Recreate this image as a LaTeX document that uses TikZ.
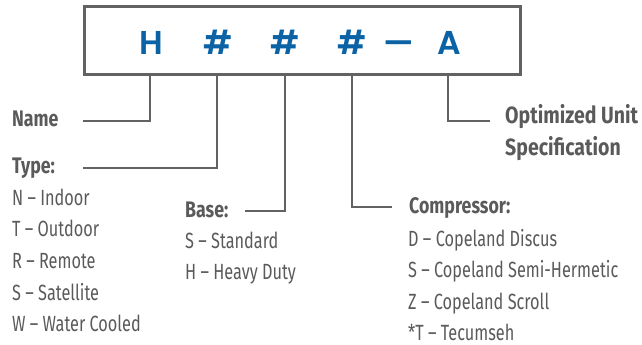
\documentclass[tikz,border=0pt]{standalone}
\usepackage{fontspec}
\setmainfont{Fira Sans}[FakeStretch=0.74]
\newfontfamily\headfont{Fira Sans}[FakeStretch=0.79]
\newfontfamily\wideheadfont{Fira Sans}[FakeStretch=0.83]
\newfontfamily\keyfont{Poppins SemiBold}
\usetikzlibrary{calc}

\definecolor{keyblue}{HTML}{0B63A5}
\definecolor{leadgray}{HTML}{626262}
\definecolor{textgray}{HTML}{5A5A5A}

\begin{document}
\begin{tikzpicture}[x=1pt,y=-1pt,
  keybox/.style={draw=leadgray,line width=3pt,minimum width=436pt,minimum height=67pt,inner sep=0pt},
  keychar/.style={anchor=base,text=keyblue,font=\keyfont\fontsize{33}{33}\selectfont,inner sep=0pt},
  head/.style={anchor=base west,inner sep=0pt,text=textgray,font=\headfont\bfseries\fontsize{22.5}{27}\selectfont},
  widehead/.style={head,font=\wideheadfont\bfseries\fontsize{23.5}{28}\selectfont},
  item/.style={anchor=base west,inner sep=0pt,text=textgray,font=\fontsize{22}{26}\selectfont},
  lead/.style={draw=leadgray,line width=2pt}]
\useasboundingbox (0,0) rectangle (642,345);
% code box
\node[keybox] (box) at (302,40.5) {};
\node[keychar] (kname) at (151,55) {H};
\node[keychar] (ktype) at (218,55) {\#};
\node[keychar] (kbase) at (285,55) {\#};
\node[keychar] (kcomp) at (352,55) {\#};
\node[keychar] (kdash) at (399,55) {—};
\node[keychar] (kopt) at (449,55) {A};
% labels
\node[head] (name) at (12,126) {Name};
\node[head] (type) at (12,173) {Type:};
\foreach \t [count=\i] in {N -- Indoor,T -- Outdoor,R -- Remote,S -- Satellite,W -- Water Cooled}
  \node[item] (type\i) at (12,{205+31.7*(\i-1)}) {\t};
\node[head] (base) at (185,217) {Base:};
\foreach \t [count=\i] in {S -- Standard,H -- Heavy Duty}
  \node[item] (base\i) at (185,{248+31*(\i-1)}) {\t};
\node[head] (comp) at (409,213) {Compressor:};
\foreach \t [count=\i] in {D -- Copeland Discus,S -- Copeland Semi-Hermetic,Z -- Copeland Scroll,*T -- Tecumseh}
  \node[item] (comp\i) at (408,{246+31.5*(\i-1)}) {\t};
\node[widehead] (opt) at (505,123) {Optimized Unit};
\node[widehead] (opt2) at (505,155) {Specification};
% leader ends
\coordinate (nameend) at (83,121);
\coordinate (typeend) at (83,168);
\coordinate (baseend) at (245,211);
\coordinate (compend) at (392,207);
\coordinate (optend) at (490,121);
\draw[lead] ([xshift=-1pt]kname |- box.south) |- (nameend);
\draw[lead] ([xshift=-1pt]ktype |- box.south) |- (typeend);
\draw[lead] (kbase |- box.south) |- (baseend);
\draw[lead] (kcomp |- box.south) |- (compend);
\draw[lead] ([xshift=-1pt]kopt |- box.south) |- (optend);
\end{tikzpicture}
\end{document}
